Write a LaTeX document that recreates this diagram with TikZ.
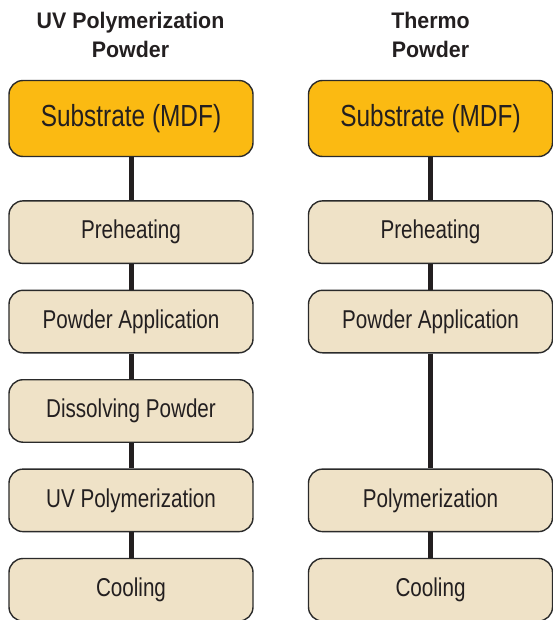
\documentclass[tikz,border=0pt]{standalone}
\usepackage{fontspec}
\setmainfont{Liberation Sans}
\newfontfamily\boxfont[FakeStretch=0.8]{Liberation Sans}
\newfontfamily\headfont[FakeStretch=0.95]{Liberation Sans}
\usetikzlibrary{positioning, calc}

\definecolor{mdfyellow}{HTML}{FBBA12}
\definecolor{steptan}{HTML}{EFE2C7}
\definecolor{edgegray}{HTML}{2A2A2A}
\definecolor{inkgray}{HTML}{231F20}

\begin{document}
\begin{tikzpicture}[x=1pt, y=1pt, node distance=25.5pt,
  stepbox/.style={draw=edgegray, line width=1.4pt, rounded corners=14pt, fill=steptan,
    minimum width=244pt, minimum height=62.5pt, inner sep=0pt, text=inkgray,
    font=\boxfont\fontsize{25.8}{30}\selectfont},
  subbox/.style={stepbox, fill=mdfyellow, minimum height=76pt,
    font=\boxfont\fontsize{30.5}{34}\selectfont},
  heading/.style={align=center, text=inkgray,
    font=\headfont\bfseries\fontsize{22.5}{29}\selectfont},
  link/.style={line width=5pt, draw=inkgray}]
   \useasboundingbox (0,0) rectangle (553,-620);

   % UV curing line
   \node[heading] (uvhead) at (130.5,-35) {UV Polymerization\\Powder};
   \node[subbox] (uvsub) at (131,-118.5) {Substrate (MDF)};
   \node[stepbox] (uvpre) [below=43pt of uvsub] {Preheating};
   \node[stepbox] (uvapp) [below=of uvpre] {Powder Application};
   \node[stepbox] (uvdis) [below=of uvapp] {Dissolving Powder};
   \node[stepbox] (uvpoly) [below=of uvdis] {UV Polymerization};
   \node[stepbox] (uvcool) [below=of uvpoly] {Cooling};

   % thermal curing line
   \node[heading] (thhead) at (430.5,-35) {Thermo\\Powder};
   \node[subbox] (thsub) at (430.5,-118.5) {Substrate (MDF)};
   \node[stepbox] (thpre) [below=43pt of thsub] {Preheating};
   \node[stepbox] (thapp) [below=of thpre] {Powder Application};
   \node[stepbox] (thpoly) at (uvpoly -| thsub) {Polymerization};
   \node[stepbox] (thcool) [below=of thpoly] {Cooling};

   \path[link]
    (uvsub) edge (uvpre)
    (uvpre) edge (uvapp)
    (uvapp) edge (uvdis)
    (uvdis) edge (uvpoly)
    (uvpoly) edge (uvcool)
    (thsub) edge (thpre)
    (thpre) edge (thapp)
    (thapp) edge (thpoly)
    (thpoly) edge (thcool);
\end{tikzpicture}
\end{document}
